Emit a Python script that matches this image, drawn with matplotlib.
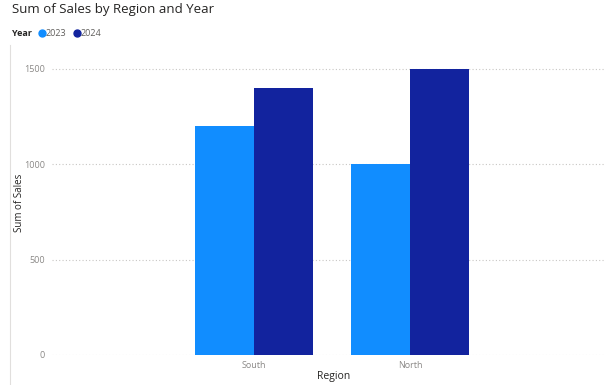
import matplotlib
matplotlib.use("Agg")
import matplotlib.pyplot as plt
import numpy as np
from matplotlib.lines import Line2D

regions = ["South", "North"]
years = ["2023", "2024"]
sales_2023 = [1200, 1000]
sales_2024 = [1400, 1500]
yticks = [0, 500, 1000, 1500]
colors = ["#118DFF", "#12239E"]

plt.rcParams['font.family'] = ['Open Sans', 'DejaVu Sans']

W, H = 604, 385
fig = plt.figure(figsize=(W/100, H/100), dpi=100)
ax = fig.add_axes([52/W, 1 - 355/H, (604-52)/W, (355-55)/H])

x = np.arange(len(regions))
bw = 0.378
ax.bar(x - bw/2, sales_2023, width=bw, color=colors[0], zorder=3)
ax.bar(x + bw/2, sales_2024, width=bw, color=colors[1], zorder=3)

ax.set_xlim(-1.295, 2.24)
ax.set_ylim(0, 1573)
ax.set_yticks(yticks)
ax.set_yticklabels([str(v) for v in yticks])
ax.set_xticks(x)
ax.set_xticklabels(regions)
ax.tick_params(axis='both', length=0, labelsize=6.5, colors="#8a8886")
ax.tick_params(axis='y', pad=5)
ax.tick_params(axis='x', pad=4)
ax.grid(axis='y', linestyle=(0, (1, 2)), color="#c8c6c4", linewidth=0.8, zorder=0)
for s in ax.spines.values():
    s.set_visible(False)

fig.text(20/W, 1 - 203/H, "Sum of Sales", fontsize=7, color="#252423", rotation=90, va='center', ha='center')
fig.text(334/W, 1 - 377/H, "Region", fontsize=7.5, color="#252423", va='center', ha='center')

fig.text(12/W, 1 - 9/H, "Sum of Sales by Region and Year", fontsize=9.5, color="#252423", va='center', ha='left')
fig.text(12/W, 1 - 33/H, "Year", fontsize=6.5, color="#252423", fontweight='bold', va='center', ha='left')
for lab, c, px in zip(years, colors, [42, 77]):
    fig.add_artist(Line2D([px/W], [1 - 33/H], marker='o', markersize=5, color=c, linestyle='none', transform=fig.transFigure))
    fig.text((px + 4)/W, 1 - 33/H, lab, fontsize=6.5, color="#605e5c", va='center', ha='left')

fig.add_artist(Line2D([10/W, 10/W], [0, 1 - 45/H], color="#e1dfdd", linewidth=0.8, transform=fig.transFigure))

fig.savefig("out.png", dpi=100)
